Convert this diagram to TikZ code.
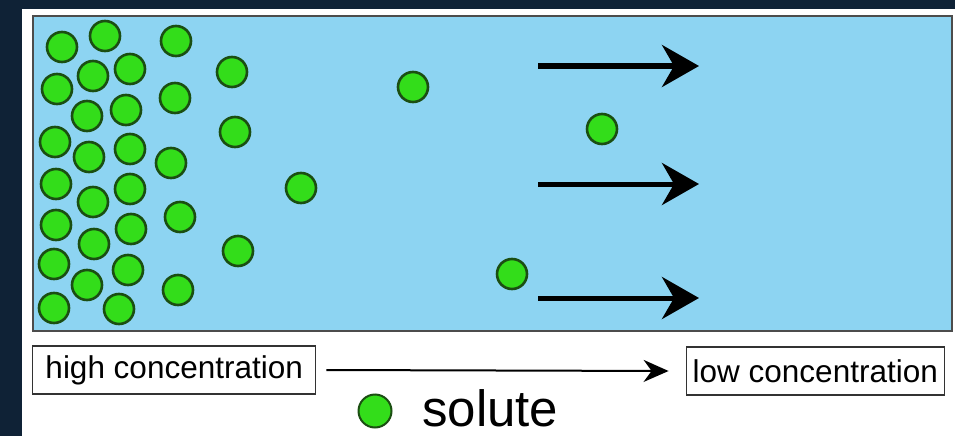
\documentclass[tikz,border=0pt]{standalone}
\usepackage{fontspec}
\setmainfont{Liberation Sans}
\usetikzlibrary{arrows.meta,positioning}
\definecolor{navy}{HTML}{0F2236}
\definecolor{water}{HTML}{8DD4F2}
\definecolor{solgreen}{HTML}{33DD1A}
\definecolor{soledge}{HTML}{1B4E12}
\tikzset{
  sol/.style={circle, draw=soledge, fill=solgreen, line width=2.6pt,
              minimum size=30pt, inner sep=0pt},
  conc/.style={draw=black!80, line width=1.4pt, fill=white, font=\fontsize{31.5}{33}\selectfont,
               minimum height=48pt, inner sep=4pt},
  flow/.style={line width=5pt, -{Stealth[length=37pt, width=42pt, inset=12pt]}},
  grad/.style={line width=2pt, -{Stealth[length=25pt, width=22pt, inset=8pt]}},
}

\begin{document}
\begin{tikzpicture}[x=1pt, y=-1pt]
    % frame
    \fill[navy] (0,0) rectangle (955,436);
    \fill[white] (22,9) rectangle (955,436);
    \filldraw[fill=water, draw=black!70, line width=1.6pt] (33,16) rectangle (952,331);
    % solute particles
    \foreach \px/\py [count=\i] in {62/47, 105/36, 176/41, 232/72, 130/69, 93/76, 57/89,
        175/98, 87/116, 126/110, 235/132, 55/142, 89/157, 130/149, 171/163, 301/188,
        56/184, 93/202, 130/189, 180/217, 56/225, 94/244, 131/229, 238/251, 54/264,
        128/270, 87/285, 178/290, 54/308, 119/309, 413/87, 602/129, 512/274}
      \node[sol] (s\i) at (\px,\py) {};
    % direction of diffusion
    \foreach \ay [count=\j] in {66, 184, 298} {
      \coordinate (a\j) at (538,\ay);
      \coordinate (b\j) at (699,\ay);
      \draw[flow] (a\j) -- (b\j);
    }
    % gradient labels
    \node[conc, anchor=west, minimum width=283pt] (hi) at (32,370) {high concentration};
    \node[conc, anchor=east, minimum width=258pt] (lo) at (945,371) {low concentration};
    \draw[grad] ([xshift=10pt]hi.east) -- ([xshift=-17pt]lo.west);
    % key
    \node[sol, minimum size=33pt, line width=2pt] (key) at (375,411) {};
    \node[anchor=base west, inner sep=0pt, font=\fontsize{51}{53}\selectfont] (keylbl) at (422,426) {solute};
  \end{tikzpicture}
\end{document}
